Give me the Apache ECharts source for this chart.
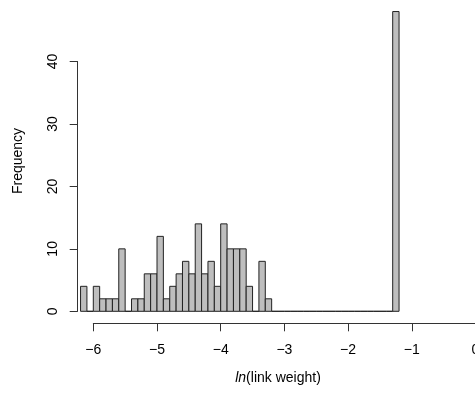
<!DOCTYPE html>
<html>
<head>
<meta charset="utf-8">
<script src="https://cdn.jsdelivr.net/npm/echarts@6/dist/echarts.min.js"></script>
<style>
html,body{margin:0;padding:0;background:#fff;}
#c{width:475px;height:397px;}
</style>
</head>
<body>
<div id="c"></div>
<script>
// Histogram bins (left edges, width 0.1) and counts
const binLeft = [-6.2,-6.1,-6.0,-5.9,-5.8,-5.7,-5.6,-5.5,-5.4,-5.3,
                 -5.2,-5.1,-5.0,-4.9,-4.8,-4.7,-4.6,-4.5,-4.4,-4.3,
                 -4.2,-4.1,-4.0,-3.9,-3.8,-3.7,-3.6,-3.5,-3.4,-3.3,
                 -3.2,-3.1,-3.0,-2.9,-2.8,-2.7,-2.6,-2.5,-2.4,-2.3,
                 -2.2,-2.1,-2.0,-1.9,-1.8,-1.7,-1.6,-1.5,-1.4,-1.3];
const binWidth = 0.1;
const counts = [4,0,4,2,2,2,10,0,2,2,
                6,6,12,2,4,6,8,6,14,6,
                8,4,14,10,10,10,4,0,8,2,
                0,0,0,0,0,0,0,0,0,0,
                0,0,0,0,0,0,0,0,0,48];
const xTicks = [-6,-5,-4,-3,-2,-1,0];
const yTicks = [0,10,20,30,40];
const xTitleItalic = 'ln';
const xTitleRest = '(link weight)';
const yTitle = 'Frequency';

const data = binLeft.map((l, i) => [l, l + binWidth, counts[i]]);
const font = 'Liberation Sans, Arial, Helvetica, sans-serif';
const fmt = v => (v < 0 ? '\u2212' + Math.abs(v) : String(v));

const chart = echarts.init(document.getElementById('c'), null, {renderer: 'canvas'});
chart.setOption({
  animation: false,
  backgroundColor: '#ffffff',
  grid: {left: 93.3, width: 382.2, top: 61.5, height: 249.8, containLabel: false, outerBoundsMode: 'none'},
  xAxis: {
    type: 'value', min: xTicks[0], max: xTicks[xTicks.length - 1], interval: 1,
    position: 'bottom', offset: 12,
    axisLine: {show: true, onZero: false, lineStyle: {color: '#333', width: 1}},
    axisTick: {show: true, inside: false, length: 8, lineStyle: {color: '#333', width: 1}},
    axisLabel: {show: true, margin: 20, color: '#000', fontFamily: font, fontSize: 14, formatter: fmt},
    splitLine: {show: false}
  },
  yAxis: {
    type: 'value', min: yTicks[0], max: yTicks[yTicks.length - 1], interval: 10,
    position: 'left', offset: 15.6,
    axisLine: {show: true, onZero: false, lineStyle: {color: '#333', width: 1}},
    axisTick: {show: true, inside: false, length: 8, lineStyle: {color: '#333', width: 1}},
    axisLabel: {show: true, rotate: 90, margin: 18, color: '#000', fontFamily: font, fontSize: 14},
    splitLine: {show: false}
  },
  graphic: [
    {
      type: 'text', x: 278, y: 378,
      style: {
        text: '{it|' + xTitleItalic + '}' + xTitleRest,
        fill: '#000', font: '14px ' + font, align: 'center', verticalAlign: 'middle',
        rich: {it: {fontStyle: 'italic', fontFamily: font, fontSize: 14, fill: '#000'}}
      }
    },
    {
      type: 'text', x: 18, y: 161, rotation: Math.PI / 2,
      style: {text: yTitle, fill: '#000', font: '14px ' + font, align: 'center', verticalAlign: 'middle'}
    }
  ],
  series: [{
    type: 'custom',
    clip: false,
    data: data,
    encode: {x: [0, 1], y: 2},
    renderItem: function (params, api) {
      const p0 = api.coord([api.value(0), 0]);
      const p1 = api.coord([api.value(1), api.value(2)]);
      return {
        type: 'rect',
        shape: {x: p0[0], y: p1[1], width: p1[0] - p0[0], height: p0[1] - p1[1]},
        style: {fill: '#bebebe', stroke: '#222', lineWidth: 1}
      };
    }
  }]
});
</script>
</body>
</html>
